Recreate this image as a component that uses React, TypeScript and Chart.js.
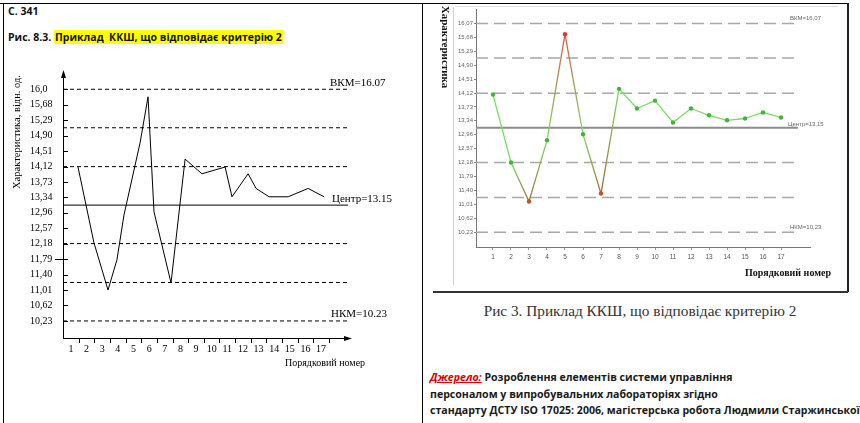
import React, { useEffect, useRef } from 'react';
import { Chart, registerables } from 'chart.js';

Chart.register(...registerables);

// ---------------- data ----------------
const X_LABELS = ['1', '2', '3', '4', '5', '6', '7', '8', '9', '10', '11', '12', '13', '14', '15', '16', '17'];

// Left chart (Рис. 8.3) — redrawn polyline, x in "sample number" units
const LEFT_LINE_X = [1.45, 2.47, 3.37, 3.94, 4.39, 5.42, 5.93, 6.31, 7.4, 8.3, 9.38, 10.86, 11.3, 12.33, 12.84, 13.67, 14.89, 16.17, 17.19];
const LEFT_LINE_Y = [14.11, 12.2, 11.01, 11.77, 12.9, 14.72, 15.88, 12.98, 11.19, 14.31, 13.94, 14.11, 13.36, 13.94, 13.57, 13.36, 13.36, 13.57, 13.36];
const LEFT_Y_TICK_LABELS = ['10,23', '10,62', '11,01', '11,40', '11,79', '12,18', '12,57', '12,96', '13,34', '13,73', '14,12', '14,51', '14,90', '15,29', '15,68', '16,0'];

// Right chart (Рис 3) — original control chart
const RIGHT_VALUES = [14.08, 12.18, 11.09, 12.8, 15.77, 12.97, 11.31, 14.24, 13.69, 13.91, 13.3, 13.69, 13.5, 13.36, 13.41, 13.58, 13.44];
const RIGHT_STATUS = ['ok', 'ok', 'low', 'ok', 'high', 'ok', 'low', 'ok', 'ok', 'ok', 'ok', 'ok', 'ok', 'ok', 'ok', 'ok', 'ok'];
const RIGHT_Y_TICK_LABELS = ['10,23', '10,62', '11,01', '11,40', '11,79', '12,18', '12,57', '12,96', '13,34', '13,73', '14,12', '14,51', '14,90', '15,29', '15,68', '16,07'];

const UCL = 16.07;
const LCL = 10.23;
const CENTER = 13.15;
const LIMITS = [16.07, 15.1, 14.12, 12.18, 11.2, 10.23];

// ---------------- scale ranges ----------------
const L_XMIN = 0.49;
const L_XMAX = 18.72;
const L_YMIN = 9.8;
const L_YMAX = 16.43;

const R_XMIN = 0.056;
const R_XMAX = 18.61;
const R_LINE_END = 17.94;
const R_YMIN = 9.815;
const R_YMAX = 16.457;

const tickValue = (i: number, n: number) => LCL + ((UCL - LCL) * i) / (n - 1);

const SERIF = '"Liberation Serif", "Times New Roman", serif';
const SANS = '"Liberation Sans", Arial, sans-serif';
const BODY = '"Open Sans", "Noto Sans", sans-serif';

const leftDecor = {
  id: 'leftDecor',
  afterDraw(chart: any) {
    const { ctx, chartArea: a, scales } = chart;
    const y = scales.y;
    const x = scales.x;
    ctx.save();
    ctx.strokeStyle = '#000';
    ctx.fillStyle = '#000';
    ctx.lineWidth = 1;
    // inward ticks on y axis
    y.ticks.forEach((t: any) => {
      const py = Math.round(y.getPixelForValue(t.value)) + 0.5;
      ctx.beginPath();
      ctx.moveTo(a.left, py);
      ctx.lineTo(a.left + 5, py);
      ctx.stroke();
    });
    // tick marks between the x labels
    X_LABELS.forEach((_, i) => {
      const px = Math.round(x.getPixelForValue(i + 1.5)) + 0.5;
      ctx.beginPath();
      ctx.moveTo(px, a.bottom);
      ctx.lineTo(px, a.bottom + 5);
      ctx.stroke();
    });
    // arrows
    ctx.beginPath();
    ctx.moveTo(a.left + 0.5, a.top - 5);
    ctx.lineTo(a.left - 2, a.top + 3);
    ctx.lineTo(a.left + 3, a.top + 3);
    ctx.closePath();
    ctx.fill();
    ctx.beginPath();
    ctx.moveTo(a.right + 4, a.bottom + 0.5);
    ctx.lineTo(a.right - 4, a.bottom - 2);
    ctx.lineTo(a.right - 4, a.bottom + 3);
    ctx.closePath();
    ctx.fill();
    // limit labels
    ctx.font = `11px ${SERIF}`;
    ctx.textBaseline = 'alphabetic';
    ctx.textAlign = 'left';
    ctx.fillText(`ВКМ=${UCL.toFixed(2)}`, a.right - 18, y.getPixelForValue(UCL) - 3);
    ctx.fillText(`Центр=${CENTER.toFixed(2)}`, a.right - 16, y.getPixelForValue(CENTER) - 3);
    ctx.fillText(`НКМ=${LCL.toFixed(2)}`, a.right - 17, y.getPixelForValue(LCL) - 4);
    // axis titles
    ctx.font = `10px ${SERIF}`;
    ctx.textBaseline = 'middle';
    ctx.fillText('Порядковий номер', 275, 303);
    ctx.translate(7, 72);
    ctx.rotate(-Math.PI / 2);
    ctx.textAlign = 'center';
    ctx.font = `10.5px ${SERIF}`;
    ctx.fillText('Характеристика, відн. од.', 0, 0);
    ctx.restore();
  },
};

const rightDecor = {
  id: 'rightDecor',
  afterDraw(chart: any) {
    const { ctx, scales } = chart;
    const y = scales.y;
    ctx.save();
    ctx.fillStyle = '#666';
    ctx.font = `6px ${SANS}`;
    ctx.textAlign = 'left';
    ctx.textBaseline = 'alphabetic';
    const c = (v: number) => v.toFixed(2).replace('.', ',');
    ctx.fillText(`ВКМ=${c(UCL)}`, 357, y.getPixelForValue(UCL) - 3);
    ctx.fillText(`Центр=${c(CENTER)}`, 355, y.getPixelForValue(CENTER) - 2);
    ctx.fillText(`НКМ=${c(LCL)}`, 357, y.getPixelForValue(LCL) - 3);
    ctx.fillStyle = '#111';
    ctx.font = `bold 10px ${SERIF}`;
    ctx.textBaseline = 'middle';
    ctx.fillText('Порядковий номер', 312, 268);
    ctx.translate(12, 42);
    ctx.rotate(Math.PI / 2);
    ctx.textAlign = 'center';
    ctx.font = `bold 11px ${SERIF}`;
    ctx.fillText('Характеристика', 0, 0);
    ctx.restore();
  },
};

const POINT_COLORS: Record<string, string> = { ok: '#43b23e', low: '#b8522a', high: '#e0303c' };
const LINE_COLORS: Record<string, string> = { ok: '#7cdb63', low: '#a8693a', high: '#d65a4a' };

function LeftChart() {
  const ref = useRef<HTMLCanvasElement | null>(null);
  useEffect(() => {
    if (!ref.current) return;
    const chart = new Chart(ref.current, {
      type: 'line',
      data: {
        datasets: [
          {
            data: LEFT_LINE_X.map((x, i) => ({ x, y: LEFT_LINE_Y[i] })),
            borderColor: '#000',
            borderWidth: 1,
            pointRadius: 0,
          },
          ...LIMITS.map((v) => ({
            data: [
              { x: L_XMIN, y: v },
              { x: L_XMAX, y: v },
            ],
            borderColor: '#000',
            borderWidth: 1,
            borderDash: [4, 3],
            pointRadius: 0,
          })),
          {
            data: [
              { x: L_XMIN, y: CENTER },
              { x: L_XMAX, y: CENTER },
            ],
            borderColor: '#000',
            borderWidth: 1,
            pointRadius: 0,
          },
        ],
      },
      options: {
        animation: false,
        responsive: false,
        events: [],
        layout: { padding: { left: 20, top: 15, right: 62, bottom: 22 } },
        plugins: { legend: { display: false }, tooltip: { enabled: false } },
        scales: {
          x: {
            type: 'linear',
            min: L_XMIN,
            max: L_XMAX,
            afterBuildTicks: (s: any) => {
              s.ticks = X_LABELS.map((_, i) => ({ value: i + 1 }));
            },
            afterFit: (s: any) => {
              s.height = 20;
            },
            ticks: {
              autoSkip: false,
              maxRotation: 0,
              padding: 0,
              color: '#000',
              font: { family: SERIF, size: 10 },
              callback: (v: any) => X_LABELS[v - 1],
            },
            grid: { drawOnChartArea: false, tickLength: 5, tickColor: 'rgba(0,0,0,0)' },
            border: { display: true, color: '#000', width: 1 },
          },
          y: {
            type: 'linear',
            min: L_YMIN,
            max: L_YMAX,
            afterBuildTicks: (s: any) => {
              s.ticks = LEFT_Y_TICK_LABELS.map((_, i) => ({ value: tickValue(i, LEFT_Y_TICK_LABELS.length) }));
            },
            afterFit: (s: any) => {
              s.width = 33;
            },
            ticks: {
              crossAlign: 'far',
              color: '#000',
              font: { family: SERIF, size: 10 },
              callback: (_v: any, i: number) => LEFT_Y_TICK_LABELS[i],
            },
            grid: {
              drawOnChartArea: false,
              tickLength: 8,
              tickColor: (c: any) => (c.index === 4 ? '#000' : 'rgba(0,0,0,0)'),
            },
            border: { display: true, color: '#000', width: 1 },
          },
        },
      } as any,
      plugins: [leftDecor],
    });
    return () => chart.destroy();
  }, []);
  return <canvas ref={ref} width={400} height={320} style={{ position: 'absolute', left: 10, top: 60, width: 400, height: 320 }} />;
}

function RightChart() {
  const ref = useRef<HTMLCanvasElement | null>(null);
  useEffect(() => {
    if (!ref.current) return;
    const chart = new Chart(ref.current, {
      type: 'line',
      data: {
        datasets: [
          {
            data: RIGHT_VALUES.map((v, i) => ({ x: i + 1, y: v })),
            borderColor: LINE_COLORS.ok,
            borderWidth: 1.3,
            pointRadius: 2.2,
            pointBorderWidth: 0,
            pointBackgroundColor: (c: any) => POINT_COLORS[RIGHT_STATUS[c.dataIndex]] || POINT_COLORS.ok,
            segment: {
              borderColor: (c: any) => {
                const g = c.chart.ctx.createLinearGradient(c.p0.x, c.p0.y, c.p1.x, c.p1.y);
                g.addColorStop(0, LINE_COLORS[RIGHT_STATUS[c.p0DataIndex]]);
                g.addColorStop(1, LINE_COLORS[RIGHT_STATUS[c.p1DataIndex]]);
                return g;
              },
            },
          },
          ...LIMITS.map((v) => ({
            data: [
              { x: R_XMIN, y: v },
              { x: R_LINE_END, y: v },
            ],
            borderColor: '#a8a8a8',
            borderWidth: 1.5,
            borderDash: [12, 6],
            pointRadius: 0,
          })),
          {
            data: [
              { x: R_XMIN, y: CENTER },
              { x: R_LINE_END, y: CENTER },
            ],
            borderColor: '#8c8c8c',
            borderWidth: 2,
            pointRadius: 0,
          },
        ],
      },
      options: {
        animation: false,
        responsive: false,
        events: [],
        layout: { padding: { left: 0, top: 2, right: 36, bottom: 21 } },
        plugins: { legend: { display: false }, tooltip: { enabled: false } },
        scales: {
          x: {
            type: 'linear',
            min: R_XMIN,
            max: R_XMAX,
            afterBuildTicks: (s: any) => {
              s.ticks = X_LABELS.map((_, i) => ({ value: i + 1 }));
            },
            afterFit: (s: any) => {
              s.height = 22;
            },
            ticks: {
              autoSkip: false,
              maxRotation: 0,
              padding: 3,
              color: '#555',
              font: { family: SANS, size: 6.5 },
              callback: (v: any) => X_LABELS[v - 1],
            },
            grid: { drawOnChartArea: false, tickLength: 3, tickColor: '#999' },
            border: { display: true, color: '#777', width: 1 },
          },
          y: {
            type: 'linear',
            min: R_YMIN,
            max: R_YMAX,
            afterBuildTicks: (s: any) => {
              s.ticks = RIGHT_Y_TICK_LABELS.map((_, i) => ({ value: tickValue(i, RIGHT_Y_TICK_LABELS.length) }));
            },
            afterFit: (s: any) => {
              s.width = 43;
            },
            ticks: {
              padding: 1,
              color: '#666',
              font: { family: SANS, size: 6 },
              callback: (_v: any, i: number) => RIGHT_Y_TICK_LABELS[i],
            },
            grid: { drawOnChartArea: false, tickLength: 2, tickColor: '#888' },
            border: { display: true, color: '#777', width: 1 },
          },
        },
      } as any,
      plugins: [rightDecor],
    });
    return () => chart.destroy();
  }, []);
  return <canvas ref={ref} width={413} height={285} style={{ position: 'absolute', left: 433, top: 5, width: 413, height: 285 }} />;
}

const line = (left: number, top: number, width: number, height: number, color: string): React.CSSProperties => ({
  position: 'absolute',
  left,
  top,
  width,
  height,
  background: color,
});

export default function App() {
  return (
    <div style={{ position: 'absolute', left: 0, top: 0, width: 860, height: 423, overflow: 'hidden', background: '#fff' }}>
      {/* table borders */}
      <div style={line(0, 3, 847, 1, '#000')} />
      <div style={line(3, 3, 1, 420, '#000')} />
      <div style={line(422, 3, 1, 420, '#000')} />
      <div style={line(847, 3, 1.5, 289, '#222')} />
      <div style={line(433, 291, 415, 1.5, '#333')} />
      <div style={line(453, 7, 1, 278, '#d0d0d0')} />
      <div style={line(455, 6, 383, 1, '#dedede')} />

      {/* left header */}
      <div style={{ position: 'absolute', left: 8, top: 4, fontFamily: BODY, fontWeight: 700, fontSize: 10.5, color: '#111', whiteSpace: 'nowrap' }}>
        С. 341
      </div>
      <div style={{ position: 'absolute', left: 8, top: 29, height: 17, lineHeight: '17px', fontFamily: BODY, fontWeight: 700, fontSize: 10.5, color: '#111', whiteSpace: 'nowrap' }}>
        Рис. 8.3. <span style={{ background: '#ffff00', padding: '0 1px' }}>Приклад&nbsp; ККШ, що відповідає критерію 2</span>
      </div>

      <LeftChart />
      <RightChart />

      {/* right caption */}
      <div style={{ position: 'absolute', left: 433, width: 414, top: 302, textAlign: 'center', fontFamily: SERIF, fontSize: 15.3, color: '#333', whiteSpace: 'nowrap' }}>
        Рис 3. Приклад ККШ, що відповідає критерію 2
      </div>

      {/* source */}
      <div style={{ position: 'absolute', left: 430, top: 369, fontFamily: BODY, fontWeight: 700, fontSize: 10.6, lineHeight: '16.7px', color: '#1a1a1a', whiteSpace: 'nowrap' }}>
        <span style={{ color: '#e00000', fontStyle: 'italic', textDecoration: 'underline' }}>Джерело:</span> Розроблення елементів системи управління
        <br />
        персоналом у випробувальних лабораторіях згідно
        <br />
        стандарту ДСТУ ISO 17025: 2006, магістерська робота Людмили Старжинської
      </div>
    </div>
  );
}
